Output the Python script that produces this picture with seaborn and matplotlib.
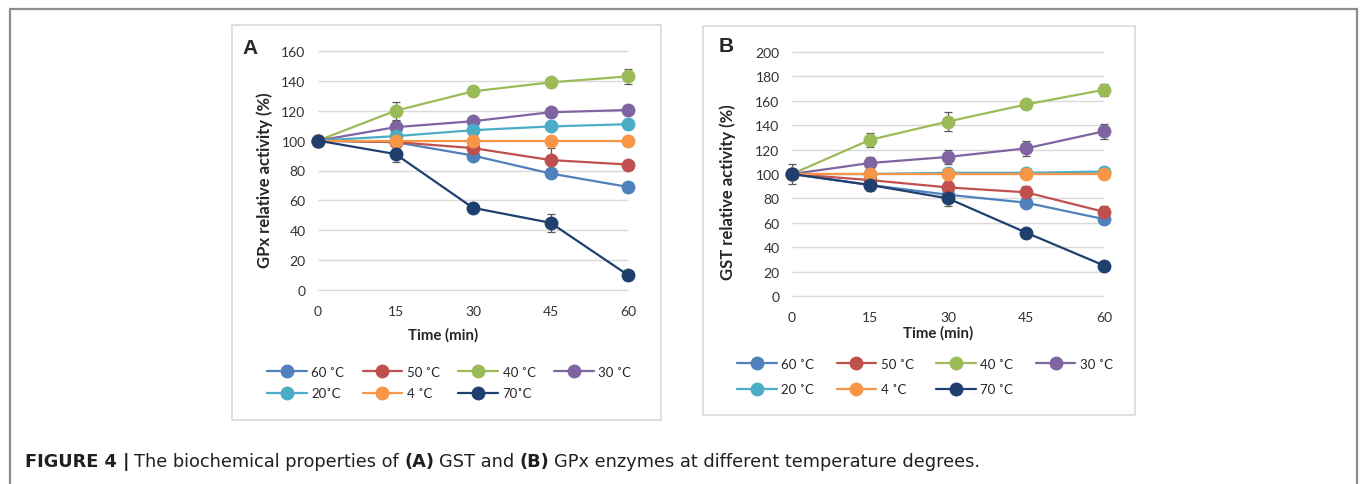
import numpy as np
import pandas as pd
import matplotlib
matplotlib.use("Agg")
import matplotlib.pyplot as plt
import seaborn as sns
from matplotlib.lines import Line2D
from matplotlib.patches import Rectangle

# --- Data ---
times = [0, 15, 30, 45, 60]
temps = ["60 ˚C", "50 ˚C", "40 ˚C", "30 ˚C", "20 ˚C", "4 ˚C", "70 ˚C"]
labels_a = ["60 ˚C", "50 ˚C", "40 ˚C", "30 ˚C", "20˚C", "4 ˚C", "70˚C"]
labels_b = ["60 ˚C", "50 ˚C", "40 ˚C", "30 ˚C", "20 ˚C", "4 ˚C", "70 ˚C"]
colors = ["#4F81BD", "#C0504D", "#9BBB59", "#8064A2", "#4BACC6", "#F79646", "#1F3F6E"]

# panel A: GPx relative activity (%)
gpx_60 = [100, 99, 90, 78, 69]
gpx_50 = [100, 99, 95, 87, 84]
gpx_40 = [100, 120, 133, 139, 143]
gpx_30 = [100, 109, 113, 119, 120.5]
gpx_20 = [100, 103, 107, 109.5, 111]
gpx_4 = [100, 100, 100, 100, 100]
gpx_70 = [100, 91, 55, 45, 10]
gpx_err = [
    [0, 1, 1, 2, 1],
    [0, 0, 2, 8, 1],
    [0, 6, 3, 3, 5],
    [0, 4, 3, 3, 2],
    [0, 1, 1, 1, 1],
    [0, 0, 0, 0, 0],
    [4, 5, 3, 6, 3],
]

# panel B: GST relative activity (%)
gst_60 = [100, 91, 83, 76.5, 63]
gst_50 = [100, 95, 89, 85, 69]
gst_40 = [100, 128, 143, 157, 169]
gst_30 = [100, 109, 114, 121, 135]
gst_20 = [100, 100, 101, 101, 102]
gst_4 = [100, 100, 100, 100, 100]
gst_70 = [100, 91, 80, 52, 25]
gst_err = [
    [0, 1, 2, 2, 2],
    [0, 1, 5, 5, 5],
    [0, 6, 8, 4, 5],
    [0, 5, 6, 6, 6],
    [0, 1, 1, 1, 1],
    [0, 1, 1, 1, 1],
    [8, 5, 6, 3, 4],
]

W, H = 1362, 485
TICK_FONT = ["Lato", "DejaVu Sans"]
MS = 10


def long_frame(series):
    rows = []
    for name, vals in zip(temps, series):
        for t, v in zip(times, vals):
            rows.append({"time": t, "temp": name, "value": v})
    return pd.DataFrame(rows)


def px_box(l, t, r, b):
    # pixel box -> figure fraction [left, bottom, width, height]
    return [l / W, 1 - b / H, (r - l) / W, (b - t) / H]


def draw_panel(ax, series, errs, ymax, ylabel, ylab_xy, xlab_xy):
    df = long_frame(series)
    yt = np.arange(0, ymax + 1, 20)
    # excel-like horizontal gridlines, incl. the one at 0
    ax.hlines(yt, 0, 60, color="#D9D9D9", linewidth=1, clip_on=False, zorder=0)
    sns.lineplot(data=df, x="time", y="value", hue="temp", hue_order=temps,
                 palette=colors, marker="o", markersize=MS, markeredgewidth=0,
                 linewidth=1.6, sort=False, errorbar=None, legend=False,
                 ax=ax, clip_on=False, zorder=3)
    for vals, e in zip(series, errs):
        ax.errorbar(times, vals, yerr=e, fmt="none", ecolor="#595959",
                    elinewidth=0.9, capsize=3, capthick=0.9, clip_on=False, zorder=2.5)
    ax.set_xlim(0, 60)
    ax.set_ylim(0, ymax)
    ax.set_xticks(times)
    ax.set_yticks(yt)
    ax.grid(False)
    for s in ax.spines.values():
        s.set_visible(False)
    ax.tick_params(axis="both", length=0, labelsize=10, colors="#333333")
    ax.tick_params(axis="y", pad=9)
    ax.tick_params(axis="x", pad=11)
    for lab in ax.get_xticklabels() + ax.get_yticklabels():
        lab.set_fontfamily(TICK_FONT)
    ax.set_ylabel(ylabel, fontsize=12, fontweight="bold", family=TICK_FONT)
    ax.yaxis.set_label_coords(*ylab_xy)
    ax.set_xlabel("Time (min)", fontsize=10.8, fontweight="bold", family=TICK_FONT)
    ax.xaxis.set_label_coords(*xlab_xy)
    ax.xaxis.label.set_va("center")
    ax.yaxis.label.set_va("center")


sns.set_style("white")
fig = plt.figure(figsize=(W / 100, H / 100), dpi=100)

ax_a = fig.add_axes(px_box(318, 52, 628, 291))
ax_b = fig.add_axes(px_box(792, 53, 1104, 297))

draw_panel(ax_a, [gpx_60, gpx_50, gpx_40, gpx_30, gpx_20, gpx_4, gpx_70], gpx_err,
           160, "GPx relative activity (%)", (-0.171, 0.464), (0.403, -0.184))
draw_panel(ax_b, [gst_60, gst_50, gst_40, gst_30, gst_20, gst_4, gst_70], gst_err,
           200, "GST relative activity (%)", (-0.205, 0.428), (0.468, -0.148))

# panel frames
for box in [px_box(232, 26, 661, 421), px_box(703, 27, 1135, 416)]:
    fig.patches.append(Rectangle((box[0], box[1]), box[2], box[3], fill=False,
                                 edgecolor="#D9D9D9", linewidth=1.2,
                                 transform=fig.transFigure, figure=fig))

# panel letters
fig.text(250 / W, 1 - 48 / H, "A", fontsize=15, fontweight="bold", ha="center", va="center",
         family=["Liberation Sans", "DejaVu Sans"])
fig.text(726 / W, 1 - 47 / H, "B", fontsize=15, fontweight="bold", ha="center", va="center",
         family=["Liberation Sans", "DejaVu Sans"])


# legends: 4 columns, filled row by row
def add_legend(labels, x, y, colspace, rowspace):
    order = [0, 4, 1, 5, 2, 6, 3]
    handles = [Line2D([], [], color=colors[i], marker="o", markersize=MS,
                      markeredgewidth=0, linewidth=1.6) for i in order]
    fig.legend(handles, [labels[i] for i in order], ncol=4, frameon=False,
               loc="upper left", bbox_to_anchor=(x / W, 1 - y / H),
               prop={"family": TICK_FONT, "size": 9.5}, handlelength=3.0,
               handletextpad=0.35, columnspacing=colspace, borderpad=0,
               borderaxespad=0, labelspacing=rowspace, labelcolor="#262626")


add_legend(labels_a, 267, 367, 1.4, 0.72)
add_legend(labels_b, 737, 359, 1.7, 1.0)

# outer frame (open at the bottom)
fc = "#8C8C8C"
fig.add_artist(Line2D([10 / W, 1357 / W], [1 - 10 / H, 1 - 10 / H], color=fc, lw=1.6,
                      transform=fig.transFigure))
fig.add_artist(Line2D([10 / W, 10 / W], [0, 1 - 10 / H], color=fc, lw=1.6,
                      transform=fig.transFigure))
fig.add_artist(Line2D([1357 / W, 1357 / W], [0, 1 - 10 / H], color=fc, lw=1.6,
                      transform=fig.transFigure))

# caption, drawn piece by piece so that some words can be bold
cap_font = ["DejaVu Sans"]
pieces = [("FIGURE 4 |", "bold"), ("The biochemical properties of", "normal"),
          ("(A)", "bold"), ("GST and", "normal"), ("(B)", "bold"),
          ("GPx enzymes at different temperature degrees.", "normal")]
fig.canvas.draw()
renderer = fig.canvas.get_renderer()
x = 25
space = 5
for txt, wt in pieces:
    t = fig.text(x / W, 1 - 467 / H, txt, fontsize=12.8, fontweight=wt, color="#231F20",
                 family=cap_font, ha="left", va="baseline")
    x = t.get_window_extent(renderer).x1 + space

fig.savefig("out.png", dpi=100)
